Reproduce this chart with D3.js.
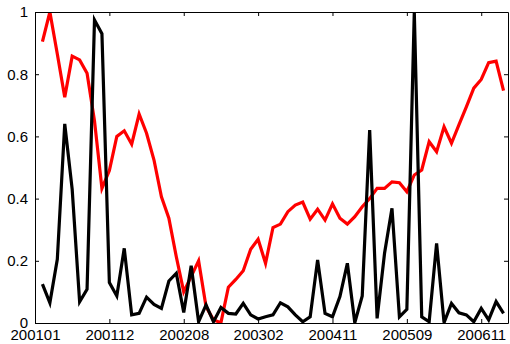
<!DOCTYPE html>
<html>
<head>
<meta charset="utf-8">
<script src="https://cdn.jsdelivr.net/npm/d3@7"></script>
<style>
  body { margin: 0; background: #fff; }
  svg text { font-family: "Liberation Sans", Arial, sans-serif; font-size: 15px; fill: #000; }
</style>
</head>
<body>
<div id="chart"></div>
<script>
// tick labels sit every 10 points along the x index
const tickPositions = [0, 10, 20, 30, 40, 50, 60];
const tickLabels = ["200101", "200112", "200208", "200302", "200411", "200509", "200611"];
const yTicks = [0, 0.2, 0.4, 0.6, 0.8, 1];

const redValues = [
  0.905, 1.0, 0.865, 0.726, 0.858, 0.846, 0.803, 0.65, 0.433, 0.49,
  0.60, 0.618, 0.575, 0.672, 0.61, 0.524, 0.406, 0.337, 0.213, 0.10,
  0.15, 0.20, 0.052, 0.01, 0.001, 0.115, 0.14, 0.168, 0.237, 0.269,
  0.192, 0.307, 0.318, 0.358, 0.379, 0.389, 0.334, 0.366, 0.331, 0.383,
  0.337, 0.318, 0.342, 0.374, 0.40, 0.433, 0.433, 0.454, 0.451, 0.422,
  0.476, 0.492, 0.583, 0.551, 0.631, 0.578, 0.637, 0.695, 0.755, 0.783,
  0.837, 0.842, 0.747
];

const blackValues = [
  0.125, 0.065, 0.205, 0.64, 0.43, 0.068, 0.108, 0.974, 0.93, 0.13,
  0.087, 0.24, 0.026, 0.031, 0.083, 0.06, 0.047, 0.135, 0.16, 0.034,
  0.184, 0.004, 0.058, 0.004, 0.05, 0.031, 0.029, 0.063, 0.026, 0.013,
  0.02, 0.026, 0.065, 0.052, 0.026, 0.004, 0.02, 0.203, 0.031, 0.02,
  0.085, 0.192, 0.001, 0.087, 0.62, 0.015, 0.224, 0.369, 0.02, 0.044,
  1.0, 0.02, 0.004, 0.256, 0.001, 0.063, 0.033, 0.026, 0.004, 0.047,
  0.01, 0.069, 0.031
];

const width = 510, height = 344;
const margin = {top: 12, right: 2, bottom: 21, left: 35};

const svg = d3.select('#chart').append('svg')
  .attr('width', width)
  .attr('height', height);

const xScale = d3.scaleLinear()
  .domain([0, 63.6])
  .range([margin.left, width - margin.right]);

const yScale = d3.scaleLinear()
  .domain([0, 1])
  .range([height - margin.bottom, margin.top]);

svg.append('clipPath').attr('id', 'plot-clip')
  .append('rect')
  .attr('x', margin.left)
  .attr('y', margin.top)
  .attr('width', xScale.range()[1] - margin.left)
  .attr('height', yScale.range()[0] - margin.top);

const plot = svg.append('g').attr('clip-path', 'url(#plot-clip)');

const line = d3.line()
  .x((d, i) => xScale(i + 1))
  .y(d => yScale(d));

plot.append('path')
  .datum(redValues)
  .attr('fill', 'none')
  .attr('stroke', '#ff0000')
  .attr('stroke-width', 3.2)
  .attr('stroke-linejoin', 'miter')
  .attr('d', line);

plot.append('path')
  .datum(blackValues)
  .attr('fill', 'none')
  .attr('stroke', '#000')
  .attr('stroke-width', 3.2)
  .attr('stroke-linejoin', 'miter')
  .attr('d', line);

// axes: ticks point inward on all four sides, like a boxed plot
const tickLen = 4;
const xAxis = d3.axisBottom(xScale)
  .tickValues(tickPositions)
  .tickFormat((d, i) => tickLabels[i])
  .tickSizeInner(-tickLen)
  .tickSizeOuter(0)
  .tickPadding(8);

const yAxis = d3.axisLeft(yScale)
  .tickValues(yTicks)
  .tickFormat(d => d === 0 ? '0' : d === 1 ? '1' : d3.format('.1f')(d))
  .tickSizeInner(-tickLen)
  .tickSizeOuter(0)
  .tickPadding(7);

const xTop = d3.axisTop(xScale).tickValues(tickPositions).tickFormat('')
  .tickSizeInner(-tickLen).tickSizeOuter(0);
const yRight = d3.axisRight(yScale).tickValues(yTicks).tickFormat('')
  .tickSizeInner(-tickLen).tickSizeOuter(0);

const gx = svg.append('g')
  .attr('transform', `translate(0,${yScale.range()[0]})`)
  .call(xAxis);
const gy = svg.append('g')
  .attr('transform', `translate(${margin.left},0)`)
  .call(yAxis);
svg.append('g')
  .attr('transform', `translate(0,${margin.top})`)
  .call(xTop);
svg.append('g')
  .attr('transform', `translate(${xScale.range()[1]},0)`)
  .call(yRight);

svg.selectAll('.domain').attr('stroke', '#000');
svg.selectAll('.tick line').attr('stroke', '#000');
svg.selectAll('.tick text')
  .attr('font-family', '"Liberation Sans", Arial, sans-serif')
  .attr('font-size', 15)
  .attr('fill', '#000');
gx.selectAll('.tick text').attr('dy', '0.6em');
</script>
</body>
</html>
